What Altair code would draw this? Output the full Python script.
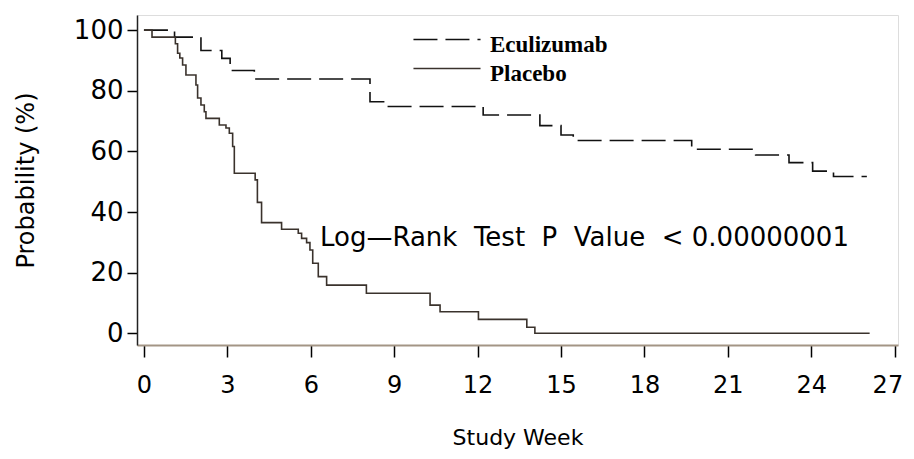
import altair as alt
import pandas as pd

# ---- data ----
series_names = ["Eculizumab", "Placebo"]

ecu_week = [0, 1.1, 2.05, 2.8, 3.1, 3.97, 8.13, 8.7, 12.2, 14.24, 15.0, 15.44,
            19.7, 22.0, 23.2, 24.05, 24.8, 26.0]
ecu_prob = [100, 97.7, 93.3, 90.7, 86.7, 83.9, 76.4, 74.8, 72.0, 68.5, 65.4, 63.6,
            60.7, 58.8, 56.3, 53.5, 51.7, 51.7]

pla_week = [0, 0.29, 1.13, 1.21, 1.29, 1.39, 1.51, 1.87, 1.93, 2.05, 2.17, 2.23,
            2.71, 2.95, 3.07, 3.19, 3.25, 4.0, 4.08, 4.23, 4.95, 5.55, 5.67, 5.85,
            5.97, 6.07, 6.27, 6.57, 8.0, 10.29, 10.65, 12.03, 13.77, 14.06, 26.1]
pla_prob = [100, 97.7, 95.5, 92.4, 90.8, 88.5, 85.2, 81.9, 77.6, 75.3, 73.1, 70.9,
            68.7, 67.7, 66.0, 61.6, 52.8, 50.6, 43.2, 36.5, 34.3, 33.0, 31.3, 29.9,
            27.5, 23.1, 18.7, 15.9, 13.2, 9.3, 7.1, 4.6, 2.0, 0, 0]

x_ticks = [0, 3, 6, 9, 12, 15, 18, 21, 24, 27]
y_ticks = [0, 20, 40, 60, 80, 100]

note_week = [6.33]
note_prob = [31.5]
note_text = ["Log\u2014Rank\u00a0 Test\u00a0 P\u00a0 Value\u00a0 < 0.00000001"]

# ---- tables ----
curves = pd.concat([
    pd.DataFrame({"week": ecu_week, "prob": ecu_prob, "series": series_names[0]}),
    pd.DataFrame({"week": pla_week, "prob": pla_prob, "series": series_names[1]}),
])
notes = pd.DataFrame({"week": note_week, "prob": note_prob, "text": note_text})

x_scale = alt.Scale(domain=[-0.25, 27.12], nice=False, zero=False)
y_scale = alt.Scale(domain=[-3.86, 105], nice=False, zero=False)

x_axis = alt.Axis(values=x_ticks, title="Study Week", grid=False,
                  domainColor="#a39585", domainWidth=2,
                  tickColor="black", tickWidth=1.5, tickSize=12,
                  labelFont="DejaVu Sans", labelFontSize=24, labelColor="black",
                  labelPadding=16, labelFlush=5, labelFlushOffset=8,
                  titleFont="DejaVu Sans", titleFontSize=22, titleFontWeight="normal",
                  titleColor="black", titlePadding=30)
y_axis = alt.Axis(values=y_ticks, title="Probability (%)", grid=False,
                  domainColor="#222222", domainWidth=1.5,
                  tickColor="black", tickWidth=1.5, tickSize=10,
                  labelFont="DejaVu Sans", labelFontSize=26, labelColor="black",
                  labelPadding=4, labelFlush=False,
                  titleFont="DejaVu Sans", titleFontSize=24, titleFontWeight="normal",
                  titleColor="black", titlePadding=35)

lines = alt.Chart(curves).mark_line(interpolate="step-after", strokeWidth=1.6).encode(
    x=alt.X("week:Q", scale=x_scale, axis=x_axis),
    y=alt.Y("prob:Q", scale=y_scale, axis=y_axis),
    color=alt.Color("series:N",
                    scale=alt.Scale(domain=series_names, range=["#111111", "#3a322c"]),
                    legend=alt.Legend(title=None, orient="none", legendX=298, legendY=18,
                                      symbolType="M-3,-0.5L3,-0.5", symbolSize=500,
                                      symbolStrokeWidth=1.5, labelFont="Liberation Serif",
                                      labelFontSize=23, labelFontWeight="bold",
                                      labelColor="black", labelOffset=31,
                                      rowPadding=5, padding=0)),
    strokeDash=alt.StrokeDash("series:N",
                              scale=alt.Scale(domain=series_names, range=[[24, 8], [1, 0]]),
                              legend=alt.Legend(title=None)),
)

note = alt.Chart(notes).mark_text(align="left", baseline="middle", font="DejaVu Sans",
                                  fontSize=26, color="black").encode(
    x=alt.X("week:Q", scale=x_scale),
    y=alt.Y("prob:Q", scale=y_scale),
    text="text:N",
)

chart = alt.layer(lines, note).properties(
    width=761, height=330,
    autosize=alt.AutoSizeParams(type="none"),
    padding={"left": 129, "top": 7, "right": 8, "bottom": 112},
).configure_view(stroke="#a39585", strokeWidth=2).configure(background="white")

chart.save("out.html", embed_options={"renderer": "svg", "actions": False})
